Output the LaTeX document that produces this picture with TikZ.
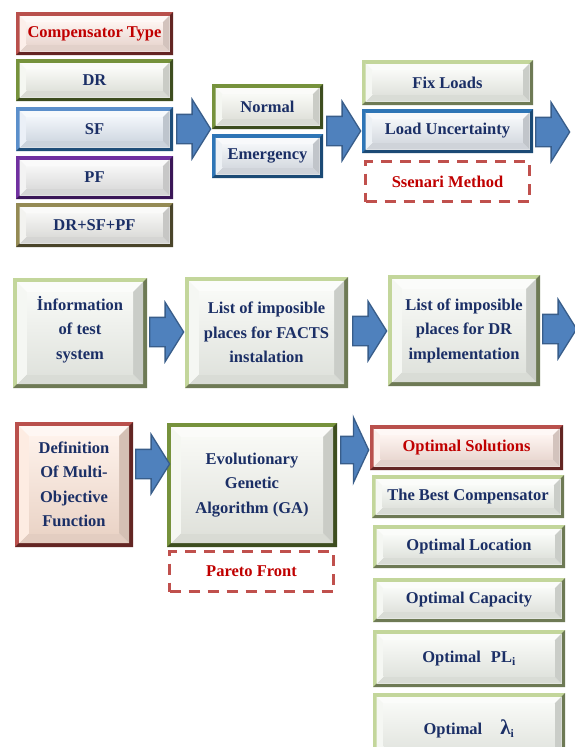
\documentclass[tikz,border=0pt]{standalone}
\usepackage{fontspec}
\setmainfont{Liberation Serif}
\usetikzlibrary{shapes.arrows,calc}
\definecolor{navy}{HTML}{1B2F66}
\definecolor{redtxt}{HTML}{C00000}
\definecolor{dashred}{HTML}{C0504D}
\definecolor{arrowfill}{HTML}{4F81BD}
\definecolor{arrowline}{HTML}{385D8A}
\definecolor{redF}{HTML}{B9504C}\definecolor{redD}{HTML}{632523}\definecolor{redFace}{HTML}{FBE8E1}
\definecolor{olvF}{HTML}{76923C}\definecolor{olvD}{HTML}{3D4D1F}\definecolor{olvFace}{HTML}{F1F3EC}
\definecolor{bluF}{HTML}{5B8FCB}\definecolor{bluD}{HTML}{1F4E79}\definecolor{bluFace}{HTML}{E2EAF4}
\definecolor{purF}{HTML}{7030A0}\definecolor{purD}{HTML}{3A1657}\definecolor{purFace}{HTML}{EDEDED}
\definecolor{khaF}{HTML}{948A54}\definecolor{khaD}{HTML}{4A452A}\definecolor{khaFace}{HTML}{EDEDEA}
\definecolor{dbF}{HTML}{2E75B6}\definecolor{dbD}{HTML}{1B4A75}\definecolor{dbFace}{HTML}{E6EBF1}
\definecolor{lgF}{HTML}{C3D69B}\definecolor{lgD}{HTML}{6E7A55}\definecolor{lgFace}{HTML}{F1F4EE}
\definecolor{peachFace}{HTML}{FCE4D6}
\newcommand\bevF{3.5pt}
\newcommand\bevB{7pt}
\newcommand\txtfont{\fontsize{16.5}{24.5}\selectfont\bfseries}
\newcommand\bevpic[3]{%
  \coordinate (q1) at (path picture bounding box.south west);
  \coordinate (q3) at (path picture bounding box.north east);
  \coordinate (q2) at (q3 |- q1);
  \coordinate (q4) at (q1 |- q3);
  \fill[#1] (q1) rectangle (q3);
  \fill[#2] (q1) -- ($(q1)+(\bevF,\bevF)$) -- ($(q2)+(-\bevF,\bevF)$) -- ($(q3)+(-\bevF,-\bevF)$) -- (q3) -- (q2) -- cycle;
  \coordinate (i1) at ($(q1)+(\bevF,\bevF)$);
  \coordinate (i3) at ($(q3)-(\bevF,\bevF)$);
  \coordinate (i2) at (i3 |- i1);
  \coordinate (i4) at (i1 |- i3);
  \coordinate (f1) at ($(i1)+(\bevB,\bevB)$);
  \coordinate (f3) at ($(i3)-(\bevB,\bevB)$);
  \coordinate (f2) at (f3 |- f1);
  \coordinate (f4) at (f1 |- f3);
  \fill[#3!30!white] (i1) rectangle (i3);
  \fill[#3!90!black] (i1) -- (i2) -- (f2) -- (f1) -- cycle;
  \fill[#3!84!black] (i2) -- (i3) -- (f3) -- (f2) -- cycle;
  \fill[#3!70!white] (i1) -- (f1) -- (f4) -- (i4) -- cycle;
  \shade[top color=#3!50!white, bottom color=#3!93!black] (f1) rectangle (f3);
}
\tikzset{
  box/.style n args={3}{rectangle, inner sep=0pt, fill=#3,
    path picture={\bevpic{#1}{#2}{#3}}, font=\txtfont, text=navy, align=center},
  bevw/.code={\renewcommand\bevB{#1}},
  bevf/.code={\renewcommand\bevF{#1}},
  dashbox/.style={draw=dashred, line width=3.5pt, dash pattern=on 11pt off 8pt,
    inner sep=0pt, text=redtxt, font=\txtfont},
  barrow/.style={single arrow, fill=arrowfill, draw=arrowline, line width=1.3pt,
    inner xsep=0pt, inner ysep=14pt, single arrow head extend=15pt,
    single arrow tip angle=116, minimum height=34pt, anchor=tail},
}
\begin{document}
\begin{tikzpicture}[x=1pt,y=-1pt]
\fill[white] (0,0) rectangle (574,747);
\useasboundingbox (0,0) rectangle (574,747);
% column 1
\node[box={redF}{redD}{redFace}, text=redtxt, minimum width=157pt, minimum height=43pt] (comp) at (94.5,33.5) {Compensator Type};
\node[box={olvF}{olvD}{olvFace}, minimum width=157pt, minimum height=42pt] (dr) at (94.5,80) {DR};
\node[box={bluF}{bluD}{bluFace}, minimum width=157pt, minimum height=44pt] (sf) at (94.5,129) {SF};
\node[box={purF}{purD}{purFace}, minimum width=157pt, minimum height=43pt] (pf) at (94.5,177.5) {PF};
\node[box={khaF}{khaD}{khaFace}, minimum width=157pt, minimum height=44pt] (dsp) at (94.5,225) {DR+SF+PF};
% column 2
\node[box={olvF}{olvD}{olvFace}, minimum width=111pt, minimum height=45pt] (normal) at (267.5,106.5) {Normal};
\node[box={dbF}{dbD}{dbFace}, minimum width=111pt, minimum height=44pt] (emerg) at (267.5,156) {Emergency};
% column 3
\node[box={lgF}{lgD}{lgFace}, minimum width=171pt, minimum height=45pt] (fix) at (447.5,82.5) {Fix Loads};
\node[box={dbF}{dbD}{dbFace}, minimum width=171pt, minimum height=44pt] (loadu) at (447.5,131) {Load Uncertainty};
\node[dashbox, minimum width=164pt, minimum height=40pt] (ssen) at (447.5,181.5) {Ssenari Method};
% arrows row 1
\node[barrow] (a1) at (176,129) {};
\node[barrow] (a2) at (326,131) {};
\node[barrow] (a3) at (535,132) {};
% row 2
\node[box={lgF}{lgD}{lgFace}, bevf=4pt, bevw=10pt, minimum width=134pt, minimum height=110pt] (info) at (80,333) {İnformation\\of test\\system\\[-14pt]\mbox{}};
\node[box={lgF}{lgD}{lgFace}, bevf=4pt, bevw=10pt, minimum width=163pt, minimum height=111pt] (facts) at (266.5,332.5) {List of imposible\\places for FACTS\\instalation};
\node[box={lgF}{lgD}{lgFace}, bevf=4pt, bevw=10pt, minimum width=152pt, minimum height=111pt] (drimp) at (464,330.5) {List of imposible\\places for DR\\implementation};
\node[barrow] (a4) at (149,332) {};
\node[barrow] (a5) at (352,331) {};
\node[barrow] (a6) at (542,329) {};
% row 3
\node[box={redF}{redD}{peachFace}, bevf=4pt, bevw=10pt, minimum width=118pt, minimum height=125pt] (def) at (74,484.5) {Definition\\Of Multi-\\Objective\\Function};
\node[box={olvF}{olvD}{olvFace}, bevf=4pt, bevw=10pt, minimum width=170pt, minimum height=124pt] (ga) at (252,485) {Evolutionary\\Genetic\\Algorithm (GA)};
\node[dashbox, minimum width=164pt, minimum height=40pt] (pareto) at (251.5,571.5) {Pareto Front};
\node[barrow] (a7) at (135,464) {};
\node[barrow, minimum height=28pt, inner ysep=13pt, single arrow head extend=19pt, single arrow tip angle=130] (a8) at (340,450) {};
% column of results
\node[box={redF}{redD}{redFace}, text=redtxt, minimum width=193pt, minimum height=45pt] (opt) at (466.5,447.5) {Optimal Solutions};
\node[box={lgF}{lgD}{lgFace}, minimum width=192pt, minimum height=43pt] (best) at (468,496.5) {The Best Compensator};
\node[box={lgF}{lgD}{lgFace}, minimum width=192pt, minimum height=43pt] (loc) at (469,546.5) {Optimal Location};
\node[box={lgF}{lgD}{lgFace}, minimum width=192pt, minimum height=44pt] (cap) at (469,600) {Optimal Capacity};
\node[box={lgF}{lgD}{lgFace}, minimum width=192pt, minimum height=57pt] (pl) at (469,658.5) {Optimal\hspace{10pt}PL\textsubscript{i}};
\node[box={lgF}{lgD}{lgFace}, minimum width=192pt, minimum height=72pt] (lam) at (469,729) {Optimal\hspace{18pt}{\fontsize{21}{21}\selectfont λ}\textsubscript{i}};
\end{tikzpicture}
\end{document}
